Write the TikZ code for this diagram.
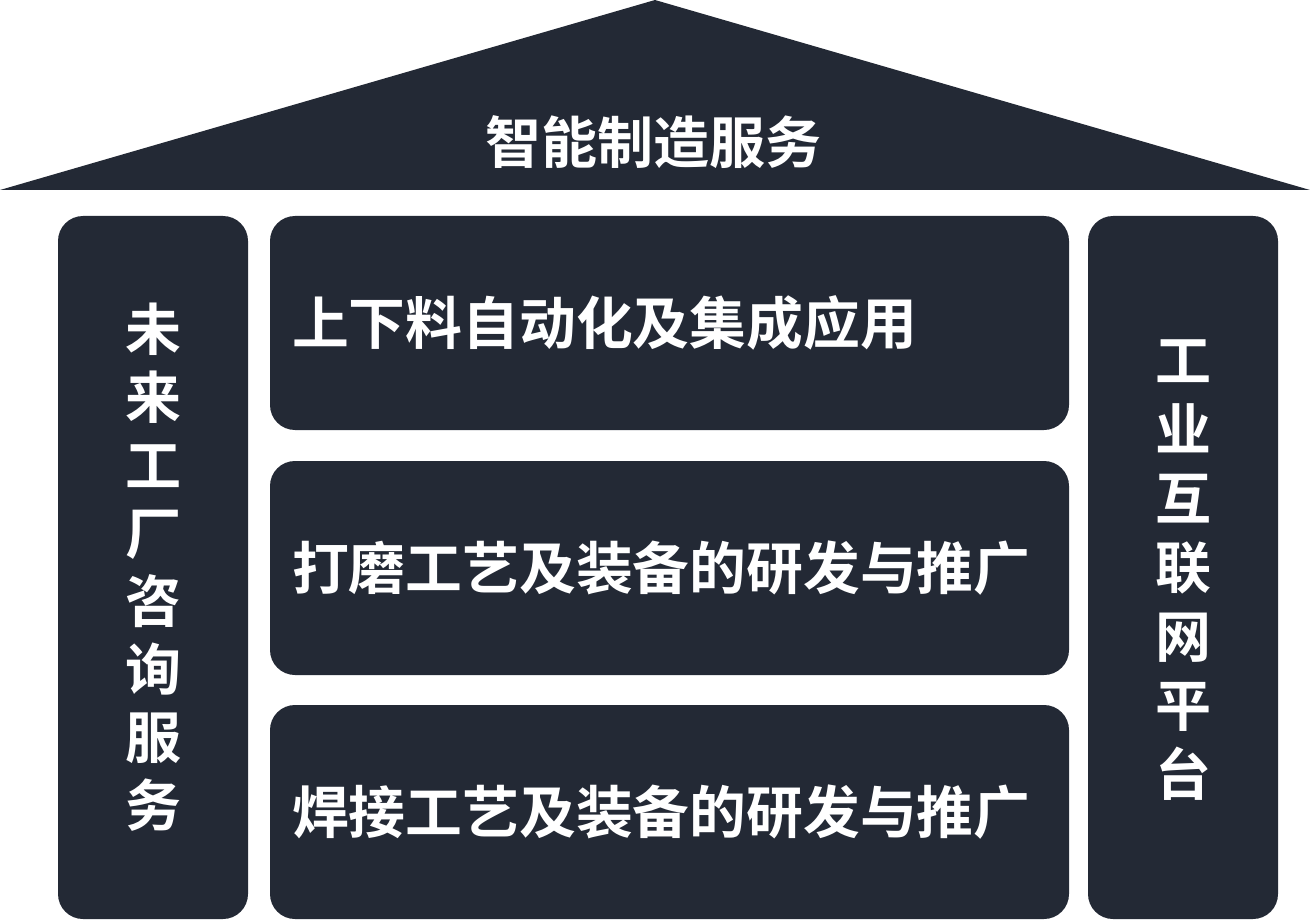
\documentclass[tikz,border=0pt]{standalone}
\usepackage{fontspec}
\newfontfamily\cjk{Noto Sans CJK SC}[BoldFont={Noto Sans CJK SC Bold}]
\definecolor{navy}{RGB}{35,41,53}
\begin{document}
\begin{tikzpicture}[x=1pt,y=-1pt,
  block/.style={fill=navy,draw=none,rounded corners=25pt,inner sep=0pt},
  label/.style={text=white,font=\cjk\bfseries\fontsize{56}{68}\selectfont},
  rowbox/.style={block,minimum width=799pt,minimum height=214pt,text width=755pt,inner xsep=22pt,align=left,label,font=\cjk\bfseries\fontsize{56.8}{68}\selectfont},
  pillar/.style={block,minimum width=190pt,minimum height=703pt}]
\useasboundingbox (0,0) rectangle (1310,920);
\coordinate (roofL) at (0,190);
\coordinate (roofT) at (655,0);
\coordinate (roofR) at (1310,190);
\fill[navy] (roofL) -- (roofT) -- (roofR) -- cycle;
\node[label] (title) at (653,142) {智能制造服务};
\node[pillar] (left) at (153,567.5) {};
\node[pillar] (right) at (1183,567.5) {};
\node[label,align=center] (lefttxt) at (153,567) {未\\来\\工\\厂\\咨\\询\\服\\务};
\node[label,align=center,font=\cjk\bfseries\fontsize{56}{69}\selectfont] (righttxt) at (1183,570) {工\\业\\互\\联\\网\\平\\台};
\node[rowbox] (row1) at (669.5,323) {上下料自动化及集成应用};
\node[rowbox] (row2) at (669.5,568) {打磨工艺及装备的研发与推广};
\node[rowbox] (row3) at (669.5,812) {焊接工艺及装备的研发与推广};
\end{tikzpicture}
\end{document}
